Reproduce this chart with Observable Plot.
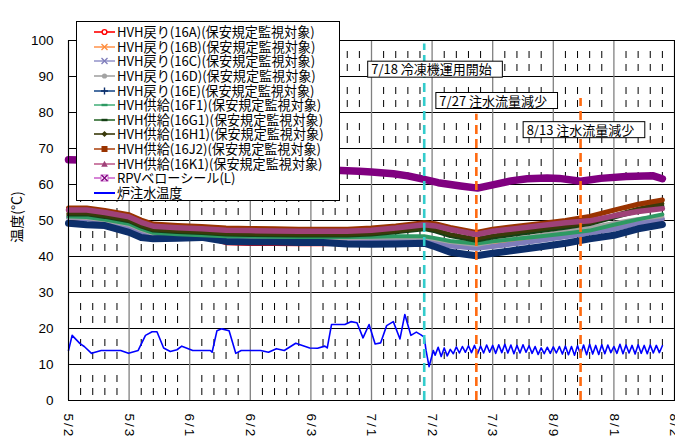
<!DOCTYPE html>
<html><head><meta charset="utf-8">
<script src="https://cdn.jsdelivr.net/npm/d3@7"></script>
<script src="https://cdn.jsdelivr.net/npm/@observablehq/plot@0.6"></script>
<style>
html,body{margin:0;padding:0;background:#fff;overflow:hidden}
#wrap{position:relative;width:675px;height:438px;overflow:hidden;background:#fff}
#legend{position:absolute;left:76px;top:21px;width:262px;height:178px;border:1px solid #000;background:#fff;font-family:"Noto Sans CJK JP",sans-serif;font-size:13.1px;color:#000}
.row{position:absolute;left:0;height:14.6px;display:flex;align-items:center;white-space:nowrap}
.row span{line-height:14px;display:block;height:14px}
.row svg{margin-left:17px;margin-right:2px;flex:none}
#ylab{position:absolute;left:16px;top:217px;transform:translate(-50%,-50%) rotate(-90deg);font-family:"Noto Sans CJK JP",sans-serif;font-size:14px;line-height:16px;white-space:nowrap}
</style></head><body><div id="wrap"></div>
<script>
// ---- data (days counted from 2012-05-21) ----
const startLabel = "5/21";
const xTickLabels = ["5/21","5/31","6/10","6/20","6/30","7/10","7/20","7/30","8/9","8/19","8/29"];
const yTicks = [0,10,20,30,40,50,60,70,80,90,100];

const seriesNames = ["HVH戻り(16A)(保安規定監視対象)","HVH戻り(16B)(保安規定監視対象)","HVH戻り(16C)(保安規定監視対象)","HVH戻り(16D)(保安規定監視対象)","HVH戻り(16E)(保安規定監視対象)","HVH供給(16F1)(保安規定監視対象)","HVH供給(16G1)(保安規定監視対象)","HVH供給(16H1)(保安規定監視対象)","HVH供給(16J2)(保安規定監視対象)","HVH供給(16K1)(保安規定監視対象)","RPVベローシール(L)","炉注水温度"];

const hvhDays = [0,3,6,10,12,14,18,22,26,30,34,38,42,46,50,54,58.7,60.5,63,67.3,70,74,78,82,86,90,94,98];
const hvh16A = [51.3,51.1,50.4,49.0,47.4,46.4,46.0,45.7,43.7,43.5,43.5,43.4,43.4,43.6,44.0,44.6,45.3,44.8,43.6,42.6,43.2,44.0,44.9,45.8,46.8,48.0,49.2,50.2];
const hvh16B = [51.9,51.6,50.8,49.2,47.6,46.5,46.1,45.8,45.3,45.2,45.1,45.0,45.0,45.0,45.1,45.2,45.3,44.8,43.8,43.0,43.6,44.3,45.0,45.8,46.8,48.0,49.3,50.4];
const hvh16C = [50.8,50.4,50.0,48.2,46.8,46.2,46.1,46.0,45.3,45.2,45.1,45.0,45.0,44.8,44.7,44.8,44.9,44.0,42.9,42.3,42.8,43.6,44.5,45.5,46.5,47.6,49.2,50.5];
const hvh16D = [50.8,50.7,50.0,48.8,47.4,46.3,45.9,45.6,45.3,45.3,45.2,45.1,45.1,45.1,45.2,45.3,45.3,44.8,44.0,43.2,44.1,45.0,45.9,47.0,48.0,49.3,50.4,51.2];
const hvh16E = [49.2,48.8,48.6,46.7,45.3,44.9,45.1,45.3,44.2,44.0,44.0,43.9,43.9,43.5,43.4,43.5,43.7,42.7,41.2,40.2,40.9,41.8,42.7,43.7,44.9,45.9,47.7,48.9];
const hvh16F1 = [51.1,51.0,50.3,49.1,47.7,46.6,46.2,45.9,45.6,45.6,45.5,45.4,45.4,45.4,45.5,45.6,45.6,45.1,44.3,43.6,44.2,44.9,45.6,46.4,47.2,48.8,50.3,51.7];
const hvh16G1 = [51.7,51.7,51.0,49.8,48.3,47.2,46.8,46.5,46.1,46.0,45.9,45.8,45.8,45.8,46.1,46.7,47.6,47.0,45.7,44.4,45.3,46.2,47.1,48.0,49.0,50.8,52.6,54.0];
const hvh16H1 = [52.0,52.0,51.3,50.1,48.6,47.5,47.1,46.8,46.4,46.3,46.2,46.1,46.1,46.1,46.4,47.0,47.9,47.4,46.2,44.9,45.8,46.7,47.6,48.5,49.3,51.4,53.3,54.7];
const hvh16J2 = [53.5,53.5,52.8,51.6,50.1,49.0,48.6,48.3,47.9,47.8,47.7,47.6,47.6,47.6,47.9,48.5,49.4,49.1,48.1,46.7,47.6,48.4,49.2,50.0,51.1,52.9,54.5,55.7];
const hvh16K1 = [52.9,52.9,52.2,51.0,49.5,48.4,48.0,47.7,47.3,47.2,47.1,47.0,47.0,47.0,47.3,47.9,48.8,48.5,47.5,46.1,47.0,47.8,48.6,49.4,49.9,51.3,52.5,53.3];

const rpvDays = [0,10,20,30,40,45,48,50,53.6,56,58.7,61,64.7,67.5,70,73,75.7,79,81,84.5,87.8,92,96.5,98];
const rpvValues = [66.9,66.5,65.8,65.0,64.3,63.9,63.7,63.5,63.0,62.4,61.4,60.5,59.6,59.0,59.9,61.0,61.6,61.8,61.7,60.9,61.7,62.2,62.4,61.6];

const waterDays = [0,0.6,1.9,2.6,3.8,5.4,8.6,9.9,11.5,12.7,13.8,14.6,15.7,16.8,17.9,18.7,20.5,23.4,23.7,24.5,25.3,26.5,27.6,28.5,31.7,33.0,34.3,35.6,37.5,39.8,41.1,42.3,42.7,43.4,44.3,45.6,46.6,47.6,48.6,49.6,50.6,51.5,52.5,53.6,54.7,55.5,56.5,57.4,58.1,58.7,59.0,59.5,60.2,
  60.5,61,61.5,62,62.5,63,63.5,64,64.5,65,65.5,66,66.5,67,67.5,68,68.5,69,69.5,70,70.5,71,71.5,72,72.5,73,73.5,74,74.5,75,75.5,76,76.5,77,77.5,78,78.5,79,79.5,80,80.5,81,81.5,82,82.5,83,83.5,84,84.5,85,85.5,86,86.5,87,87.5,88,88.5,89,89.5,90,90.5,91,91.5,92,92.5,93,93.5,94,94.5,95,95.5,96,96.5,97,97.5,98];
const waterValues = [13.9,18.1,15.8,15.0,13.1,13.9,13.9,13.1,13.9,18.1,19.1,19.1,14.6,13.6,14.1,15.1,13.9,13.9,13.4,19.4,19.9,19.4,13.1,13.9,13.9,13.4,14.4,13.9,15.9,14.6,14.5,15.1,14.6,21.1,21.1,21.1,21.9,21.6,17.4,21.1,15.7,16.0,20.8,21.9,17.1,23.9,18.1,19.0,18.3,17.6,13.9,9.4,13.9,
  12.6,14.8,12.2,14.6,12.4,14.2,13.0,14.9,13.2,15.0,13.4,15.2,13.3,15.3,13.0,15.1,13.2,15.4,13.4,15.3,13.1,15.5,13.3,15.6,13.2,15.4,13.0,15.3,13.2,15.5,13.4,15.2,13.1,15.0,12.8,14.6,13.0,14.8,13.1,14.9,13.2,15.0,12.9,15.1,12.7,15.0,12.6,15.2,12.8,15.4,12.7,15.6,12.9,15.3,12.8,15.5,13.0,15.4,13.3,15.0,13.1,15.6,13.0,15.4,13.2,15.3,12.9,15.5,13.1,15.3,13.0,15.4,13.2,15.3,13.3,15.2];

const eventDays = [58.7, 67.3, 84.5];
const eventLabels = ["7/18 冷凍機運用開始","7/27 注水流量減少","8/13 注水流量減少"];
const eventLineTop = [99, 79.5, 83.9];
const eventLabelDay = [49.95, 61.2, 75.6];
const eventLabelValue = [91.8, 83.1, 75.0];

// ---- styles ----
const seriesColors = ["#FF0000","#FF8C3A","#7F7DBA","#A3A3A3","#0D2F6B","#2E9963","#153F15","#3A3A0A","#993300","#9E4178","#800080","#0000FF"];
const legendLineColors = ["#FF0000","#FF9955","#9999CC","#A3A3A3","#1F4E8C","#4DB380","#2F6B2F","#3A3A0A","#B04A1A","#C0608F","#CC66CC","#0000FF"];
const seriesWidths = [4,4,5,4,7,4,4,4,5,5.5,7.5,1.6];
const markerTypes = ["circleOpen","times","times","circle","plus","dash","dash","diamond","square","triangle","timesBox","none"];

// ---- build ----
const [sm, sd] = startLabel.split("/").map(Number);
const start = Date.UTC(2012, sm - 1, sd);
const toDate = d => new Date(start + d * 864e5);
const labelDate = s => { const [m, d] = s.split("/").map(Number); return new Date(Date.UTC(2012, m - 1, d)); };
const xTicks = xTickLabels.map(labelDate);
const minorTicks = [];
for (let i = 0; i < xTicks.length - 1; i++) for (let k = 1; k < 5; k++) minorTicks.push(new Date(+xTicks[i] + k * 2 * 864e5));

const hvhValues = [hvh16A,hvh16B,hvh16C,hvh16D,hvh16E,hvh16F1,hvh16G1,hvh16H1,hvh16J2,hvh16K1];
const seriesData = hvhValues.map(vals => hvhDays.map((d, i) => ({date: toDate(d), value: vals[i]})));
seriesData.push(rpvDays.map((d, i) => ({date: toDate(d), value: rpvValues[i]})));
seriesData.push(waterDays.map((d, i) => ({date: toDate(d), value: waterValues[i]})));

const events = eventDays.map((d, i) => ({date: toDate(d), label: eventLabels[i], top: eventLineTop[i], ldate: toDate(eventLabelDay[i]), lval: eventLabelValue[i], color: i === 0 ? "#33CCCC" : "#FF6A10"}));

const marks = [
  Plot.ruleY(yTicks, {stroke: "#000", strokeWidth: 1}),
  Plot.ruleX(minorTicks, {stroke: "#000", strokeWidth: 1, strokeDasharray: "7,6,7,16", strokeDashoffset: 25}),
  Plot.ruleX(xTicks, {stroke: "#808080", strokeWidth: 1.3}),
];
seriesData.forEach((data, i) => {
  marks.push(Plot.line(data, {x: "date", y: "value", stroke: seriesColors[i], strokeWidth: seriesWidths[i], strokeLinejoin: "round", strokeLinecap: "round"}));
});
marks.push(Plot.ruleX(events, {x: "date", y1: 0, y2: "top", stroke: "color", strokeWidth: 2.6, strokeDasharray: "9,5"}));
marks.push(Plot.text(events, {x: "ldate", y: "lval", text: "label", textAnchor: "start", fontSize: 13, fontFamily: "Noto Sans CJK JP", fill: "#000", ariaDescription: "event-labels"}));
marks.push(Plot.frame({stroke: "#000", strokeWidth: 1}));

const plot = Plot.plot({
  width: 675, height: 438,
  marginLeft: 68, marginRight: 1, marginTop: 40, marginBottom: 38,
  style: {fontFamily: "'Liberation Sans', Arial, sans-serif", fontSize: "13.5px", background: "transparent", color: "#000"},
  x: {type: "utc", domain: [xTicks[0], xTicks[xTicks.length - 1]], ticks: xTicks, tickFormat: d => `${d.getUTCMonth() + 1}/${d.getUTCDate()}`, tickRotate: 90, tickSize: 0, tickPadding: 13, label: null},
  y: {domain: [0, 100], ticks: yTicks, tickSize: 0, tickPadding: 15, label: null},
  marks
});
const wrap = document.getElementById("wrap");
wrap.appendChild(plot);

// wider character spacing on the rotated date labels
const xLabelSet = new Set(xTickLabels);
plot.querySelectorAll("text").forEach(t => {
  if (xLabelSet.has(t.textContent)) t.style.letterSpacing = "2px";
});

// boxes behind event labels
let g = plot.querySelector('g[aria-description="event-labels"]');
if (!g) {
  const cands = [...plot.querySelectorAll("g")].filter(el => [...el.querySelectorAll("text")].some(t => t.textContent.includes("注水")));
  g = cands[cands.length - 1];
}
if (g) {
  [...g.querySelectorAll("text")].forEach(t => {
    const b = t.getBBox();
    const cy = b.y + b.height / 2;
    const r = document.createElementNS("http://www.w3.org/2000/svg", "rect");
    r.setAttribute("x", b.x - 3.5);
    r.setAttribute("y", cy - 7.5);
    r.setAttribute("width", b.width + 14);
    r.setAttribute("height", 16);
    r.setAttribute("fill", "#fff");
    r.setAttribute("stroke", "#000");
    r.setAttribute("stroke-width", 1);
    if (t.getAttribute("transform")) r.setAttribute("transform", t.getAttribute("transform"));
    t.parentNode.insertBefore(r, t);
  });
}

// legend
function markerSVG(type, line, color) {
  let s = `<line x1="0" y1="7" x2="21" y2="7" stroke="${line}" stroke-width="${type === "none" ? 2 : 1.6}"/>`;
  const c = 10.5, y = 7;
  switch (type) {
    case "circleOpen": s += `<circle cx="${c}" cy="${y}" r="2.4" fill="#fff" stroke="${color}" stroke-width="1.4"/>`; break;
    case "circle": s += `<circle cx="${c}" cy="${y}" r="2.6" fill="${color}"/>`; break;
    case "times": s += `<path d="M${c-3},${y-3}L${c+3},${y+3}M${c-3},${y+3}L${c+3},${y-3}" stroke="${color}" stroke-width="1.3"/>`; break;
    case "timesBox": s += `<rect x="${c-3.5}" y="${y-3}" width="7" height="6" fill="#fff" stroke="${line}"/><path d="M${c-3},${y-3}L${c+3},${y+3}M${c-3},${y+3}L${c+3},${y-3}" stroke="${color}" stroke-width="1.4"/>`; break;
    case "plus": s += `<path d="M${c-3.5},${y}L${c+3.5},${y}M${c},${y-3.5}L${c},${y+3.5}" stroke="${color}" stroke-width="1.4"/>`; break;
    case "dash": s += `<rect x="${c-3}" y="${y-1.2}" width="6" height="2.4" fill="${color}"/>`; break;
    case "diamond": s += `<path d="M${c},${y-3}L${c+3},${y}L${c},${y+3}L${c-3},${y}Z" fill="${color}"/>`; break;
    case "square": s += `<rect x="${c-3}" y="${y-3}" width="6" height="6" fill="${color}"/>`; break;
    case "triangle": s += `<path d="M${c},${y-3.3}L${c+3.3},${y+2.7}L${c-3.3},${y+2.7}Z" fill="${color}"/>`; break;
  }
  return `<svg width="21" height="14" viewBox="0 0 21 14">${s}</svg>`;
}
const legend = document.createElement("div");
legend.id = "legend";
seriesNames.forEach((name, i) => {
  const row = document.createElement("div");
  row.className = "row";
  row.style.top = (3 + i * 14.6) + "px";
  row.innerHTML = markerSVG(markerTypes[i], legendLineColors[i], seriesColors[i]) + `<span>${name}</span>`;
  legend.appendChild(row);
});
wrap.appendChild(legend);

const ylab = document.createElement("div");
ylab.id = "ylab";
ylab.textContent = "温度(°C)";
wrap.appendChild(ylab);
</script></body></html>
